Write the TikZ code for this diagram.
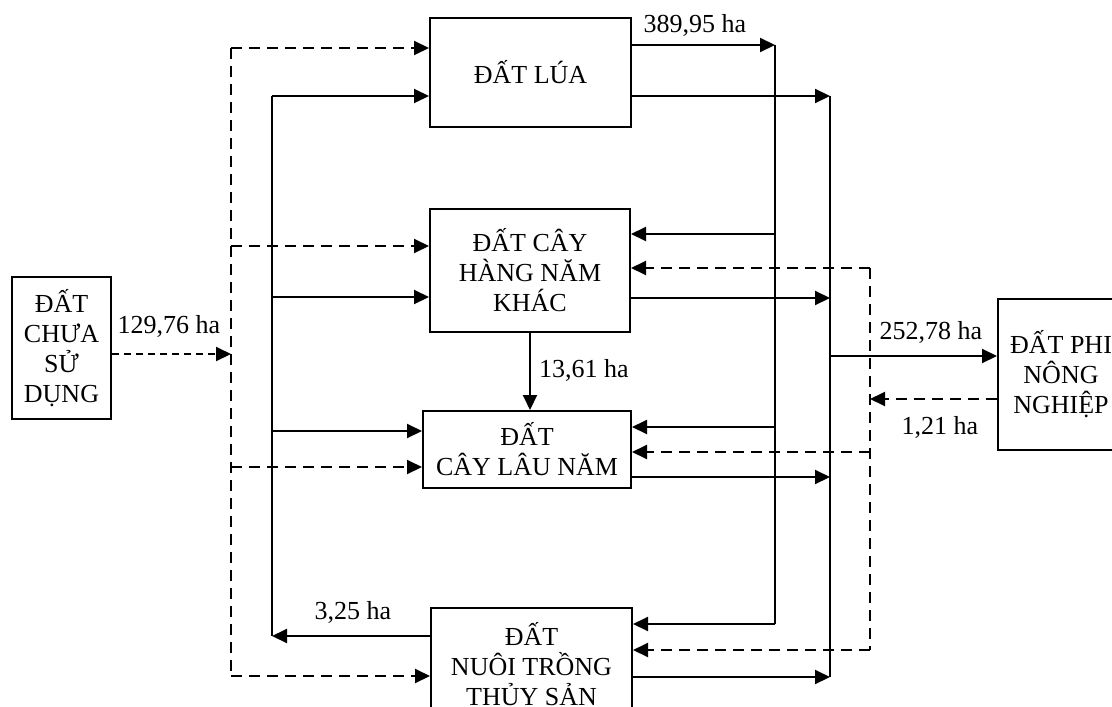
\documentclass[tikz,border=0pt]{standalone}
\usepackage{fontspec}
\setmainfont{Liberation Serif}
\usetikzlibrary{arrows.meta}

\begin{document}
\begin{tikzpicture}[x=.5pt,y=-.5pt,>={Triangle[length=7.5pt,width=7pt]},line width=1pt]
\tikzset{box/.style={draw,inner sep=0pt,align=center,font=\fontsize{13}{15}\selectfont},
  lab/.style={font=\fontsize{13}{15}\selectfont,anchor=base,inner sep=0pt},
  dl/.style={dash pattern=on 5.5pt off 3.5pt}}
\useasboundingbox (0,0) rectangle (1112,706);
\node[box,minimum width=49.5pt,minimum height=71pt] (chua) at (61.5,348) {ĐẤT\\CHƯA\\SỬ\\DỤNG};
\node[box,minimum width=100.5pt,minimum height=54.5pt] (lua) at (530.5,72.5) {ĐẤT LÚA};
\node[box,minimum width=100pt,minimum height=61.5pt] (hnk) at (530,270.5) {ĐẤT CÂY\\HÀNG NĂM\\KHÁC};
\node[box,minimum width=104pt,minimum height=38.5pt] (cln) at (527,449.5) {ĐẤT\\CÂY LÂU NĂM};
\node[box,minimum width=100.5pt,minimum height=56pt] (nts) at (531.5,664) {ĐẤT\\NUÔI TRỒNG\\THỦY SẢN};
\node[box,minimum width=63pt,minimum height=75.5pt] (pnn) at (1061,374.5) {ĐẤT PHI\\NÔNG\\NGHIỆP};
% left side
\coordinate (dT) at (231,48); \coordinate (dB) at (231,676);
\coordinate (sT) at (272,96); \coordinate (sB) at (272,636);
\draw[dl] (dT) -- (dB);
\draw (sT) -- (sB);
\foreach \y/\n in {48/lua,246/hnk,467/cln,676/nts} {
  \coordinate (d-\n) at (231,\y);
  \draw[dl,->] (d-\n) -- (d-\n -| \n.west);
}
\foreach \y/\n in {96/lua,297/hnk,431/cln} {
  \coordinate (s-\n) at (272,\y);
  \draw[->] (s-\n) -- (s-\n -| \n.west);
}
\draw[->] (nts.west |- sB) -- (sB);
\coordinate (d-chua) at (231,354);
\draw[->,dash pattern=on 3.5pt off 2.5pt] (chua.east |- d-chua) -- (d-chua);
\draw[->] (hnk.south) -- (hnk.south |- cln.north);
% right side
\coordinate (aT) at (775,45); \coordinate (aB) at (775,624);
\coordinate (bT) at (830,96); \coordinate (bB) at (830,677);
\coordinate (cT) at (870,268); \coordinate (cB) at (870,650);
\draw (aT) -- (aB);
\draw (bT) -- (bB);
\draw[dl] (cT) -- (cB);
\draw[->] (lua.east |- aT) -- (aT);
\foreach \y/\n in {234/hnk,427/cln,624/nts} {
  \coordinate (a-\n) at (775,\y);
  \draw[->] (a-\n) -- (a-\n -| \n.east);
}
\foreach \y/\n in {96/lua,298/hnk,477/cln,677/nts} {
  \coordinate (b-\n) at (830,\y);
  \draw[->] (b-\n -| \n.east) -- (b-\n);
}
\foreach \y/\n in {268/hnk,452/cln,650/nts} {
  \coordinate (c-\n) at (870,\y);
  \draw[dl,->] (c-\n) -- (c-\n -| \n.east);
}
\coordinate (b-pnn) at (830,356);
\draw[->] (b-pnn) -- (b-pnn -| pnn.west);
\coordinate (c-pnn) at (870,399);
\draw[dl,->] (c-pnn -| pnn.west) -- (c-pnn);
% labels
\node[lab] (l-chua) at (169,333) {129,76 ha};
\node[lab] (l-lua) at (695,33) {389,95 ha};
\node[lab] (l-hnk) at (584,377) {13,61 ha};
\node[lab] (l-pnn) at (931,339) {252,78 ha};
\node[lab] (l-back) at (940,434) {1,21 ha};
\node[lab] (l-nts) at (353,619) {3,25 ha};
\end{tikzpicture}
\end{document}
